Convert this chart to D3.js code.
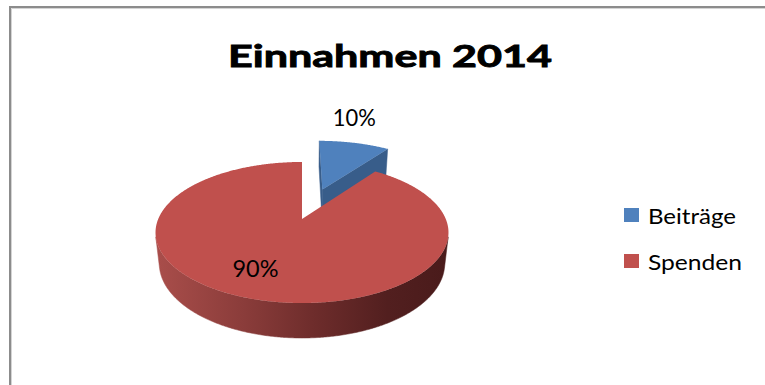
<!DOCTYPE html>
<html>
<head>
<meta charset="utf-8">
<script src="https://cdn.jsdelivr.net/npm/d3@7"></script>
<style>
body { margin:0; background:#fff; }
#container { width:765px; height:385px; }
text { font-family: Lato, "Open Sans", sans-serif; fill:#000; }
</style>
</head>
<body>
<div id="container"></div>
<script>

var title = "Einnahmen 2014";
var categories = ["Beiträge", "Spenden"];
var values = [10, 90];
var labels = ["10%", "90%"];

// camera for the tilted 3d pie (pie radius = 1, thickness h)
var cam = {cx: 302, cy: 219, f: 661.8, D: 4.603, tilt: 28.2 * Math.PI / 180, h: 0.247};
var cosT = Math.cos(cam.tilt), sinT = Math.sin(cam.tilt);

function project(X, Z, Y) {
	var yc = Y * cosT + Z * sinT;
	var zc = cam.D + Z * cosT - Y * sinT;
	return [cam.cx + cam.f * X / zc, cam.cy - cam.f * yc / zc];
}

function init() {
	var width = 765, height = 385;

	var svg = d3.select("#container")
		.append('svg')
		.attr('width', width)
		.attr('height', height);

	var color = d3.scaleOrdinal().domain(categories).range(["#4F81BD", "#C0504D"]);
	var sideColor = d3.scaleOrdinal().domain(categories).range(["#385D8A", "url(#wallRed)"]);
	var explode = d3.scaleOrdinal().domain(categories).range([0.5, 0]);

	//frame
	svg.append('path')
		.attr('d', 'M10,' + height + 'V7H' + width)
		.attr('fill', 'none')
		.attr('stroke', '#8c8c8c')
		.attr('stroke-width', 2);
	svg.append('path')
		.attr('d', 'M11.5,' + height + 'V8.5H' + width)
		.attr('fill', 'none')
		.attr('stroke', '#d4d4d4')
		.attr('stroke-width', 1);

	svg.append('text')
		.attr('x', 390)
		.attr('y', 67)
		.attr('text-anchor', 'middle')
		.attr('font-weight', 'bold')
		.attr('font-size', 31)
		.attr('stroke', '#000')
		.attr('stroke-width', 0.9)
		.attr('textLength', 324)
		.attr('lengthAdjust', 'spacingAndGlyphs')
		.text(title);

	var pie = d3.pie().sort(null).startAngle(0).endAngle(2 * Math.PI);
	var arcs = pie(values);
	var line = d3.line().curve(d3.curveLinearClosed);

	var slices = arcs.map(function(d, i) {
		var e = explode(categories[i]);
		var mid = (d.startAngle + d.endAngle) / 2;
		return {d: d, name: categories[i], label: labels[i], mid: mid,
			ox: e * Math.sin(mid), oz: e * Math.cos(mid), big: d.value / d3.sum(values) > 0.25};
	});

	function rim(a, s, y, r) {
		r = r == null ? 1 : r;
		return project(s.ox + r * Math.sin(a), s.oz + r * Math.cos(a), y);
	}
	function arcPts(a0, a1, s, y) {
		var n = Math.max(2, Math.ceil((a1 - a0) / (Math.PI / 360)));
		var pts = [];
		for (var i = 0; i <= n; i++) pts.push(rim(a0 + (a1 - a0) * i / n, s, y));
		return pts;
	}
	// outer wall faces the camera?
	function wallVisible(a, s) {
		return -s.ox * Math.sin(a) - (cam.D * cosT + s.oz) * Math.cos(a) - 1 > 0;
	}

	// gradient for the red outer wall
	var allWall = arcPts(0, 2 * Math.PI, {ox: 0, oz: 0}, -cam.h);
	var xr = d3.extent(allWall, p => p[0]);
	var grad = svg.append('defs').append('linearGradient')
		.attr('id', 'wallRed')
		.attr('gradientUnits', 'userSpaceOnUse')
		.attr('x1', xr[0]).attr('x2', xr[1]).attr('y1', 0).attr('y2', 0);
	[[0, '#a84d4a'], [0.3, '#8a3c3a'], [0.55, '#6d2c2b'], [0.8, '#521f1f'], [1, '#4a1b1b']].forEach(function(s) {
		grad.append('stop').attr('offset', s[0]).attr('stop-color', s[1]);
	});

	var g = svg.append('g');

	slices.forEach(function(s) {
		var a0 = s.d.startAngle, a1 = s.d.endAngle;
		var side = sideColor(s.name);

		// radial cut faces
		var edges = [[a0, [-Math.cos(a0), Math.sin(a0)]], [a1, [Math.cos(a1), -Math.sin(a1)]]];
		edges.forEach(function(ed) {
			var n = ed[1];
			var dot = n[0] * (0 - s.ox) + n[1] * (-cam.D * cosT - s.oz);
			if (dot > 0.01) {
				var pts = [project(s.ox, s.oz, 0), rim(ed[0], s, 0), rim(ed[0], s, -cam.h), project(s.ox, s.oz, -cam.h)];
				g.append('path').attr('d', line(pts)).attr('fill', '#385D8A').attr('stroke', '#385D8A').attr('stroke-width', 0.5);
			}
		});

		// outer wall, only the part that faces us
		var step = Math.PI / 360, run = [];
		var ranges = [];
		for (var a = a0; a <= a1 + 1e-9; a += step) {
			if (wallVisible(a, s)) run.push(a);
			else if (run.length) { ranges.push(run); run = []; }
		}
		if (run.length) ranges.push(run);
		ranges.forEach(function(r) {
			var top = r.map(a => rim(a, s, 0));
			var bot = r.map(a => rim(a, s, -cam.h)).reverse();
			g.append('path').attr('d', line(top.concat(bot))).attr('fill', side).attr('stroke', side).attr('stroke-width', 0.5);
		});

		// top face
		var topPts = [project(s.ox, s.oz, 0)].concat(arcPts(a0, a1, s, 0));
		g.append('path').attr('d', line(topPts)).attr('fill', color(s.name));
	});

	// data labels
	slices.forEach(function(s) {
		var t = g.append('text')
			.attr('text-anchor', 'middle')
			.attr('font-size', 23)
			.attr('lengthAdjust', 'spacingAndGlyphs')
			.text(s.label);
		if (s.big) {
			var p = rim(s.mid, s, 0, 0.68);
			t.attr('x', p[0] - 12).attr('y', p[1] + 8).attr('textLength', 46);
		} else {
			var q = rim(s.mid, s, 0, 1);
			t.attr('x', q[0]).attr('y', q[1] - 17).attr('textLength', 43);
		}
	});

	// legend
	var ly = d3.scalePoint().domain(categories).range([215, 261]);
	var leg = svg.selectAll('.leg')
		.data(categories)
		.enter()
		.append('g')
		.attr('class', 'leg')
		.attr('transform', d => 'translate(624,' + ly(d) + ')');
	leg.append('rect')
		.attr('x', 0).attr('y', -7)
		.attr('width', 15).attr('height', 14)
		.attr('fill', d => color(d));
	leg.append('text')
		.attr('x', 24).attr('y', 8.5)
		.attr('font-size', 21)
		.attr('textLength', (d, i) => i === 0 ? 88 : 94)
		.attr('lengthAdjust', 'spacingAndGlyphs')
		.text(d => d);
}

init();
</script>
</body>
</html>
